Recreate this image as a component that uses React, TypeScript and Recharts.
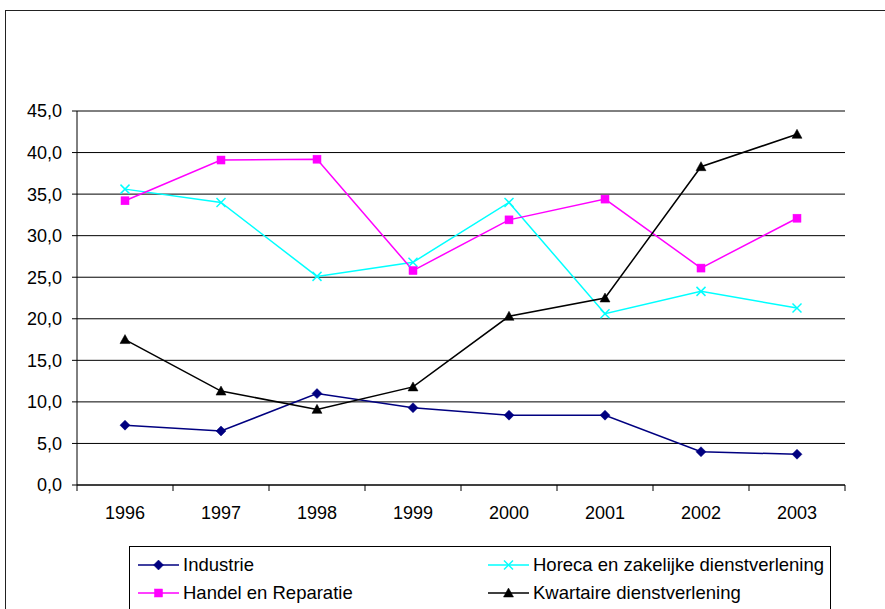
import React from 'react';
import { LineChart, Line, XAxis, YAxis, CartesianGrid, Legend } from 'recharts';

const years = ['1996', '1997', '1998', '1999', '2000', '2001', '2002', '2003'];
const industrie = [7.2, 6.5, 11.0, 9.3, 8.4, 8.4, 4.0, 3.7];
const handel = [34.2, 39.1, 39.2, 25.8, 31.9, 34.4, 26.1, 32.1];
const horeca = [35.6, 34.0, 25.1, 26.8, 34.0, 20.6, 23.3, 21.3];
const kwartaire = [17.5, 11.3, 9.1, 11.8, 20.3, 22.5, 38.3, 42.2];
const yTicks = [0, 5, 10, 15, 20, 25, 30, 35, 40, 45];

const series = [
  { key: 'industrie', name: 'Industrie', color: '#000080', marker: 'diamond' },
  { key: 'horeca', name: 'Horeca en zakelijke dienstverlening', color: '#00FFFF', marker: 'x' },
  { key: 'handel', name: 'Handel en Reparatie', color: '#FF00FF', marker: 'square' },
  { key: 'kwartaire', name: 'Kwartaire dienstverlening', color: '#000000', marker: 'triangle' },
];

const data = years.map((y, i) => ({
  year: y,
  industrie: industrie[i],
  handel: handel[i],
  horeca: horeca[i],
  kwartaire: kwartaire[i],
}));

const FONT = '"Liberation Sans", Arial, sans-serif';

function Marker({ type, cx, cy, color }: { type: string; cx: number; cy: number; color: string }) {
  if (type === 'diamond') {
    return <polygon points={`${cx},${cy - 5} ${cx + 5},${cy} ${cx},${cy + 5} ${cx - 5},${cy}`} fill={color} stroke={color} strokeWidth={0.5} />;
  }
  if (type === 'square') {
    return <rect x={cx - 4} y={cy - 4} width={8} height={8} fill={color} stroke={color} strokeWidth={0.5} />;
  }
  if (type === 'x') {
    return (
      <g stroke={color} strokeWidth={1.5}>
        <line x1={cx - 4.5} y1={cy - 4.5} x2={cx + 4.5} y2={cy + 4.5} />
        <line x1={cx - 4.5} y1={cy + 4.5} x2={cx + 4.5} y2={cy - 4.5} />
      </g>
    );
  }
  return <polygon points={`${cx},${cy - 5} ${cx + 5},${cy + 4} ${cx - 5},${cy + 4}`} fill={color} stroke={color} strokeWidth={0.5} />;
}

function CatTick(props: any) {
  const { x, y, payload, index, width, visibleTicksCount } = props;
  const half = payload && payload.offset > 0 ? payload.offset : width / (visibleTicksCount || years.length) / 2;
  const axisY = y - 15 - 6;
  const isLast = index === (visibleTicksCount || years.length) - 1;
  return (
    <g>
      <line x1={x - half} y1={axisY} x2={x - half} y2={axisY + 6} stroke="#000" />
      {isLast && <line x1={x + half} y1={axisY} x2={x + half} y2={axisY + 6} stroke="#000" />}
      <text x={x} y={y} dy="0.71em" textAnchor="middle" fontSize={18} fill="#000" fontFamily={FONT}>
        {payload.value}
      </text>
    </g>
  );
}

function LegendBox() {
  const pos = [
    { left: 8, top: 18 },
    { left: 358, top: 18 },
    { left: 8, top: 46 },
    { left: 358, top: 46 },
  ];
  return (
    <div style={{ position: 'relative', width: 702, height: 90, border: '1px solid #000', boxSizing: 'border-box', background: '#fff', fontFamily: FONT }}>
      {series.map((s, i) => (
        <div key={s.key} style={{ position: 'absolute', left: pos[i].left, top: pos[i].top - 12, height: 24, display: 'flex', alignItems: 'center', whiteSpace: 'nowrap' }}>
          <svg width={42} height={24} style={{ display: 'block' }}>
            <line x1={0} y1={12} x2={41} y2={12} stroke={s.color} strokeWidth={1.5} />
            <Marker type={s.marker} cx={20.5} cy={12} color={s.color} />
          </svg>
          <span style={{ fontSize: 18.5, color: '#000', marginLeft: 3 }}>{s.name}</span>
        </div>
      ))}
    </div>
  );
}

export default function App() {
  return (
    <div style={{ position: 'absolute', left: 0, top: 0, width: 885, height: 609, overflow: 'hidden', background: '#fff' }}>
      <div style={{ position: 'absolute', left: 5, top: 10, width: 1000, height: 800, border: '1px solid #222' }} />
      <LineChart width={885} height={609} data={data} margin={{ top: 111, right: 40, bottom: 84, left: 0 }} style={{ position: 'absolute', left: 0, top: 0 }}>
        <CartesianGrid vertical={false} stroke="#000" strokeWidth={1} />
        <XAxis dataKey="year" scale="band" tickLine={false} axisLine={{ stroke: '#000' }} height={40} tickSize={6} tickMargin={15} tick={<CatTick />} interval={0} />
        <YAxis domain={[0, 45]} ticks={yTicks} width={77} tickSize={5} tickMargin={10} axisLine={{ stroke: '#000' }} tickLine={{ stroke: '#000' }} tick={{ fontSize: 18, fill: '#000', fontFamily: FONT }} tickFormatter={(v: number) => v.toFixed(1).replace('.', ',')} interval={0} />
        <YAxis yAxisId="r" orientation="right" domain={[0, 45]} width={0} tick={false} tickLine={false} axisLine={{ stroke: '#808080', strokeWidth: 1.5 }} />
        {series.map((s) => (
          <Line
            key={s.key}
            dataKey={s.key}
            name={s.name}
            stroke={s.color}
            strokeWidth={1.5}
            isAnimationActive={false}
            dot={(p: any) => <Marker key={`${s.key}-${p.index}`} type={s.marker} cx={p.cx} cy={p.cy} color={s.color} />}
            activeDot={false}
          />
        ))}
        <Legend layout="vertical" verticalAlign="middle" align="center" content={() => <LegendBox />} wrapperStyle={{ left: 129, top: 546, width: 702, height: 90 }} />
      </LineChart>
    </div>
  );
}
